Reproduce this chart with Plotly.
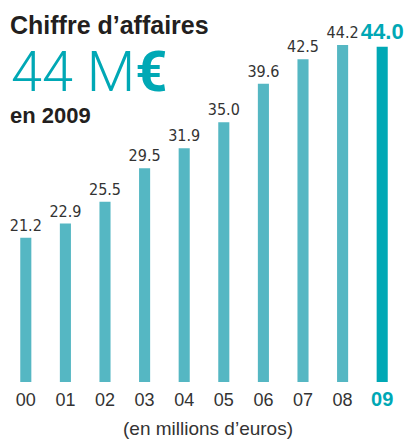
import plotly.graph_objects as go

# Chiffre d'affaires annuel, en millions d'euros
years = ["00", "01", "02", "03", "04", "05", "06", "07", "08", "09"]
revenue = [21.2, 22.9, 25.5, 29.5, 31.9, 35.0, 39.6, 42.5, 44.2, 44.0]
labels = ["21.2", "22.9", "25.5", "29.5", "31.9", "35.0", "39.6", "42.5", "44.2", "44.0"]

BAR = "#55b7c3"
HIGHLIGHT = "#00a8b5"
DARK = "#2b2b2b"

# canvas / plot-area geometry in pixels
WIDTH, HEIGHT = 406, 439
L, R, T, B = 6, 4, 30, 57
PW = WIDTH - L - R
PH = HEIGHT - T - B


def px(x):
    return (x - L) / PW


def py(y):
    return (HEIGHT - B - y) / PH


n = len(years)
last = n - 1
colors = [HIGHLIGHT if i == last else BAR for i in range(n)]
text_colors = [HIGHLIGHT if i == last else "#333333" for i in range(n)]
text_sizes = [22 if i == last else 16 for i in range(n)]
text_families = ["Liberation Sans" if i == last
                 else "DejaVu Sans Condensed, Liberation Sans Narrow, Liberation Sans"
                 for i in range(n)]
text_weights = ["bold" if i == last else "normal" for i in range(n)]

tick_text = [
    f"<b><span style='color:{HIGHLIGHT};font-size:20px'>{y}</span></b>" if i == last else y
    for i, y in enumerate(years)
]

fig = go.Figure(
    go.Bar(
        x=list(range(n)),
        y=revenue,
        width=0.28,
        marker=dict(color=colors, line=dict(width=0)),
        text=labels,
        textposition="outside",
        textangle=0,
        constraintext="none",
        cliponaxis=False,
        textfont=dict(color=text_colors, size=text_sizes, family=text_families,
                      weight=text_weights),
        hoverinfo="skip",
    )
)

fig.update_layout(
    width=WIDTH,
    height=HEIGHT,
    margin=dict(l=L, r=R, t=T, b=B),
    paper_bgcolor="white",
    plot_bgcolor="white",
    showlegend=False,
    font=dict(family="Liberation Sans, Arial, sans-serif", color=DARK),
    xaxis=dict(
        range=[-0.5, n - 0.5],
        tickmode="array",
        tickvals=list(range(n)),
        ticktext=tick_text,
        tickfont=dict(size=18, color="#333333", family="Liberation Sans"),
        showgrid=False,
        zeroline=False,
        showline=False,
        ticks="",
        ticklabelstandoff=5,
        fixedrange=True,
    ),
    yaxis=dict(
        range=[4, 46],
        visible=False,
        showgrid=False,
        zeroline=False,
        fixedrange=True,
    ),
    annotations=[
        dict(text="<b>Chiffre d’affaires</b>", x=px(8), y=py(25), xref="paper", yref="paper",
             xanchor="left", yanchor="middle", showarrow=False,
             font=dict(size=25, color="#231f20", family="Liberation Sans")),
        dict(text="44 M<b>€</b>", x=px(9), y=py(72), xref="paper", yref="paper",
             xanchor="left", yanchor="middle", showarrow=False,
             font=dict(size=56, color=HIGHLIGHT, family="Roboto", weight=300)),
        dict(text="<b>en 2009</b>", x=px(8), y=py(115), xref="paper", yref="paper",
             xanchor="left", yanchor="middle", showarrow=False,
             font=dict(size=22, color="#231f20", family="Liberation Sans")),
        dict(text="(en millions d’euros)", x=px(208), y=py(428), xref="paper", yref="paper",
             xanchor="center", yanchor="middle", showarrow=False,
             font=dict(size=19, color="#333333", family="Liberation Sans")),
    ],
)

fig.write_html("out.html")
